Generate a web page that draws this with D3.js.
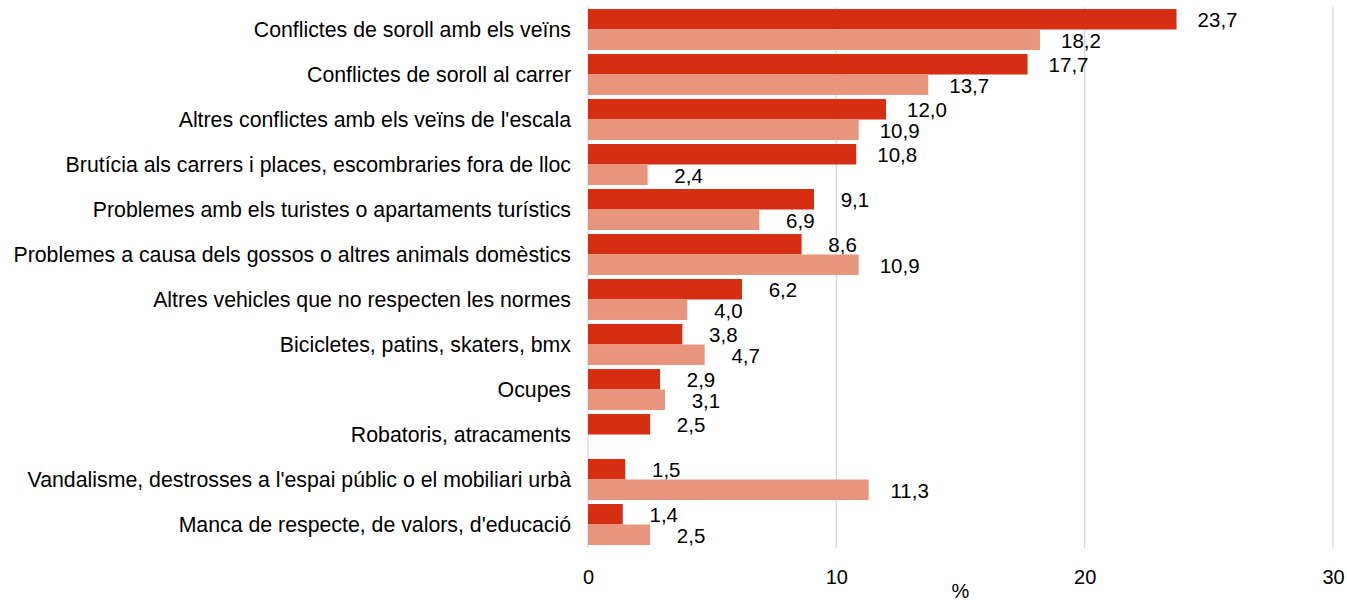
<!DOCTYPE html>
<html>
<head>
<meta charset="utf-8">
<script src="https://cdn.jsdelivr.net/npm/d3@7"></script>
<style>
  html, body { margin: 0; padding: 0; background: #ffffff; }
  svg { display: block; font-family: "Liberation Sans", Arial, sans-serif; }
</style>
</head>
<body>
<svg id="chart" width="1347" height="601"></svg>
<script>
// Problem categories, top to bottom
const categories = [
  "Conflictes de soroll amb els veïns",
  "Conflictes de soroll al carrer",
  "Altres conflictes amb els veïns de l'escala",
  "Brutícia als carrers i places, escombraries fora de lloc",
  "Problemes amb els turistes o apartaments turístics",
  "Problemes a causa dels gossos o altres animals domèstics",
  "Altres vehicles que no respecten les normes",
  "Bicicletes, patins, skaters, bmx",
  "Ocupes",
  "Robatoris, atracaments",
  "Vandalisme, destrosses a l'espai públic o el mobiliari urbà",
  "Manca de respecte, de valors, d'educació"
];

// Percentages for the two series (null = no value)
const seriesDark = [23.7, 17.7, 12.0, 10.8, 9.1, 8.6, 6.2, 3.8, 2.9, 2.5, 1.5, 1.4];
const seriesLight = [18.2, 13.7, 10.9, 2.4, 6.9, 10.9, 4.0, 4.7, 3.1, null, 11.3, 2.5];

const seriesKeys = ["dark", "light"];
const xTicks = [0, 10, 20, 30];
const axisTitle = "%";

const colors = { dark: "#d52e12", light: "#e8957d" };

const rows = categories.map((c, i) => ({
  category: c,
  dark: seriesDark[i],
  light: seriesLight[i]
}));

const svg = d3.select("#chart");

const x = d3.scaleLinear().domain([0, 30]).range([588, 1333]);
const y = d3.scaleBand().domain(categories).range([7, 547]).paddingInner(0.09).paddingOuter(0.045);
const ySub = d3.scaleBand().domain(seriesKeys).range([0, y.bandwidth()]).padding(0);

// Vertical gridlines
svg.append("g")
  .selectAll("line")
  .data(xTicks)
  .join("line")
  .attr("x1", d => x(d))
  .attr("x2", d => x(d))
  .attr("y1", 7)
  .attr("y2", 548)
  .attr("stroke", "#d9d9d9")
  .attr("stroke-width", 1.3);

// Bars
const groups = svg.append("g")
  .selectAll("g")
  .data(rows)
  .join("g")
  .attr("transform", d => `translate(0,${y(d.category)})`);

const cells = groups.selectAll("g.cell")
  .data(d => seriesKeys.map(k => ({ key: k, value: d[k] })).filter(e => e.value != null))
  .join("g")
  .attr("class", "cell");

cells.append("rect")
  .attr("x", x(0))
  .attr("y", d => ySub(d.key))
  .attr("width", d => x(d.value) - x(0))
  .attr("height", ySub.bandwidth())
  .attr("fill", d => colors[d.key]);

// Value labels
const fmt = d3.format(".1f");
cells.append("text")
  .attr("x", d => x(d.value) + 41)
  .attr("y", d => ySub(d.key) + ySub.bandwidth() / 2 + 1)
  .attr("dy", "0.35em")
  .attr("text-anchor", "middle")
  .attr("font-size", 20.5)
  .attr("fill", "#000")
  .text(d => fmt(d.value).replace(".", ","));

// Category labels
svg.append("g")
  .selectAll("text")
  .data(categories)
  .join("text")
  .attr("x", 571)
  .attr("y", d => y(d) + y.bandwidth() / 2)
  .attr("dy", "0.35em")
  .attr("text-anchor", "end")
  .attr("font-size", 21.3)
  .attr("fill", "#000")
  .text(d => d);

// X axis tick labels
const xAxis = d3.axisBottom(x).tickValues(xTicks).tickSize(0).tickPadding(0).tickFormat(d3.format("d"));
const axisG = svg.append("g")
  .attr("transform", "translate(0,570)")
  .call(xAxis);
axisG.select(".domain").remove();
axisG.selectAll("text")
  .attr("font-size", 20)
  .attr("font-family", "Liberation Sans, Arial, sans-serif")
  .attr("fill", "#000")
  .attr("dy", "0.71em")
  .attr("y", 0);

// Axis title
svg.append("text")
  .attr("x", (x(0) + x(30)) / 2)
  .attr("y", 598)
  .attr("text-anchor", "middle")
  .attr("font-size", 20)
  .attr("fill", "#000")
  .text(axisTitle);
</script>
</body>
</html>
